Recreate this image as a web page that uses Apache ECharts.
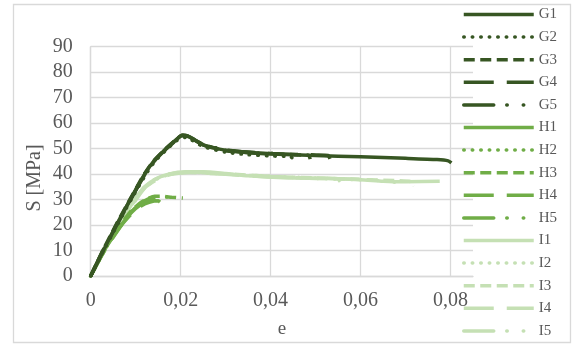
<!DOCTYPE html>
<html>
<head>
<meta charset="utf-8">
<script src="https://cdn.jsdelivr.net/npm/echarts@6/dist/echarts.min.js"></script>
<style>html,body{margin:0;padding:0;background:#fff}#c{width:573px;height:345px}</style>
</head>
<body>
<div id="c"></div>
<script>
// ---- data (strain e, stress S [MPa]) ----
const xTicks = [0, 0.02, 0.04, 0.06, 0.08];
const yTicks = [0, 10, 20, 30, 40, 50, 60, 70, 80, 90];
const seriesNames = ['G1','G2','G3','G4','G5','H1','H2','H3','H4','H5','I1','I2','I3','I4','I5'];

const G1 = [[0,0],[0.0028,10],[0.0057,20],[0.0088,30],[0.012,40],[0.014,45],[0.0168,50],[0.0187,53],[0.0205,55.3],[0.022,54.6],[0.025,51.5],[0.028,50],[0.0324,48.8],[0.04,47.9],[0.05,47.3],[0.06,46.8],[0.07,46.2],[0.077,45.7],[0.0795,45.2],[0.0802,44.4]];
const G2 = [[0,0],[0.0029,10],[0.0059,20],[0.009,30],[0.0123,40],[0.0143,45],[0.0171,50],[0.019,53],[0.021,54.4],[0.0225,53.3],[0.025,50.8],[0.03,48.6],[0.035,47.6],[0.04,47.1],[0.0445,46.8],[0.045,45.8]];
const G3 = [[0,0],[0.0027,10],[0.0056,20],[0.0087,30],[0.0119,40],[0.0139,45],[0.0167,50],[0.0186,53],[0.0202,55],[0.0215,54.8],[0.025,51.6],[0.03,49.2],[0.04,48],[0.047,47.5],[0.0485,47.3],[0.0488,45.9]];
const G4 = [[0,0],[0.0028,10],[0.0058,20],[0.0089,30],[0.0121,40],[0.0141,45],[0.0169,50],[0.0188,53],[0.0204,55.1],[0.0218,54.7],[0.025,51.5],[0.03,49.4],[0.04,48.1],[0.05,47.5],[0.0528,47.3],[0.0532,46]];
const G5 = [[0,0],[0.0027,10],[0.0057,20],[0.0088,30],[0.012,40],[0.014,45],[0.0168,50],[0.0187,53],[0.0203,55.2],[0.0216,54.9],[0.025,51.7],[0.03,49.5],[0.037,48.3],[0.042,48],[0.0424,47]];
const H1 = [[0,0],[0.003,10],[0.0068,20],[0.009,24.8],[0.011,27.8],[0.0128,29.5],[0.014,29.9],[0.0145,29.5]];
const H2 = [[0,0],[0.003,10],[0.0067,20],[0.0089,25],[0.0109,28.1],[0.0128,30],[0.0148,30.9],[0.0155,30.5]];
const H3 = [[0,0],[0.0029,10],[0.0066,20],[0.0088,25.2],[0.0108,28.4],[0.0127,30.4],[0.0142,31.3],[0.016,31.3],[0.018,30.9],[0.0205,30.6]];
const H4 = [[0,0],[0.0031,10],[0.0069,20],[0.0092,24.6],[0.0112,27.5],[0.013,28.9],[0.015,29.5],[0.0154,29]];
const H5 = [[0,0],[0.003,10],[0.0067,20],[0.0089,25],[0.0109,28.2],[0.0127,30.2],[0.0145,31],[0.017,31],[0.0175,30.5]];
const I1 = [[0,0],[0.0029,10],[0.0062,20],[0.0098,30],[0.012,35],[0.0145,38.2],[0.0175,40.1],[0.021,40.9],[0.025,40.9],[0.03,40.2],[0.035,39.3],[0.044,38.5],[0.05,38.4],[0.06,37.8],[0.065,37.2],[0.07,37],[0.0776,37.2]];
const I2 = [[0,0],[0.003,10],[0.0063,20],[0.01,30],[0.0122,35],[0.0148,38.1],[0.0178,40],[0.022,40.7],[0.03,40],[0.04,39],[0.05,38.3],[0.06,37.8],[0.066,37.3],[0.068,36.6],[0.0687,34.8]];
const I3 = [[0,0],[0.0029,10],[0.0062,20],[0.0099,30],[0.0121,35],[0.0146,38.2],[0.0176,40.1],[0.022,40.8],[0.03,40.1],[0.04,39.1],[0.05,38.5],[0.06,37.9],[0.068,37.4],[0.0712,37],[0.0719,35.3]];
const I4 = [[0,0],[0.003,10],[0.0064,20],[0.0101,30],[0.0123,35],[0.0149,38],[0.0179,39.9],[0.022,40.6],[0.03,39.9],[0.04,38.9],[0.05,38.3],[0.055,38],[0.0555,37]];
const I5 = [[0,0],[0.0029,10],[0.0062,20],[0.0098,30],[0.012,35],[0.0146,38.2],[0.0176,40.1],[0.022,40.8],[0.03,40.1],[0.04,39.1],[0.05,38.5],[0.06,37.9],[0.0625,37.7],[0.063,36.8]];
const seriesData = [G1,G2,G3,G4,G5,H1,H2,H3,H4,H5,I1,I2,I3,I4,I5];

// ---- styles ----
const colors = {G:'#375623', H:'#70AD47', I:'#C5E0B4'};
const dashTypes = ['solid', [0.5, 8], [11, 5.5], [30, 13], [30, 13, 0.5, 16, 0.5, 13]];
const FONT = '"Liberation Serif", "DejaVu Serif", serif';
const TXT = '#595959';
const GRID = '#D9D9D9';

const series = seriesNames.map((name, i) => {
  const fam = name[0];
  const k = i % 5;
  return {
    name: name,
    type: 'line',
    data: seriesData[i],
    showSymbol: false,
    symbol: 'none',
    smooth: 0.2,
    animation: false,
    lineStyle: {
      color: colors[fam],
      width: 3.5,
      type: dashTypes[k],
      cap: (k === 1 || k === 4) ? 'round' : 'butt'
    },
    itemStyle: {color: colors[fam]},
    z: 30 - i
  };
});

const chart = echarts.init(document.getElementById('c'), null, {renderer: 'canvas'});
chart.setOption({
  animation: false,
  backgroundColor: '#fff',
  grid: {left: 90.7, right: 100, top: 46.7, bottom: 69, containLabel: false},
  xAxis: {
    type: 'value', min: 0, max: 0.085, interval: 0.02,
    axisLine: {show: true, lineStyle: {color: GRID, width: 1.3}},
    axisTick: {show: false},
    splitLine: {show: true, lineStyle: {color: GRID, width: 1.3}, showMaxLine: false},
    axisLabel: {
      color: TXT, fontFamily: FONT, fontSize: 20, margin: 15,
      showMaxLabel: false,
      formatter: v => xTicks.some(t => Math.abs(t - v) < 1e-9) ? String(+v.toFixed(2)).replace('.', ',') : ''
    },
    name: 'e', nameLocation: 'middle', nameGap: 44,
    nameTextStyle: {color: TXT, fontFamily: FONT, fontSize: 19}
  },
  yAxis: {
    type: 'value', min: 0, max: 90, interval: 10,
    axisLine: {show: true, lineStyle: {color: GRID, width: 1.3}},
    axisTick: {show: false},
    splitLine: {show: true, lineStyle: {color: GRID, width: 1.3}},
    axisLabel: {color: TXT, fontFamily: FONT, fontSize: 20, margin: 18,
      formatter: v => yTicks.includes(v) ? String(v) : ''}
  },
  legend: {
    orient: 'vertical', left: 462, top: 7, height: 338, padding: 0,
    itemWidth: 70, itemHeight: 14, itemGap: 7.6, itemTextGap: 5,
    textStyle: {color: TXT, fontFamily: FONT, fontSize: 15},
    itemStyle: {color: 'rgba(0,0,0,0)', borderWidth: 0, opacity: 0},
    lineStyle: {width: 3.5},
    data: seriesNames
  },
  graphic: [
    {type: 'rect', shape: {x: 13.5, y: 4.5, width: 557, height: 338}, style: {fill: 'none', stroke: GRID, lineWidth: 1.3}, silent: true, z: 0},
    {type: 'text', x: 35, y: 178, rotation: Math.PI / 2,
     style: {text: 'S [MPa]', fill: TXT, font: '20px "Liberation Serif", serif', textAlign: 'center', textVerticalAlign: 'middle'}}
  ],
  series: series
});
</script>
</body>
</html>
